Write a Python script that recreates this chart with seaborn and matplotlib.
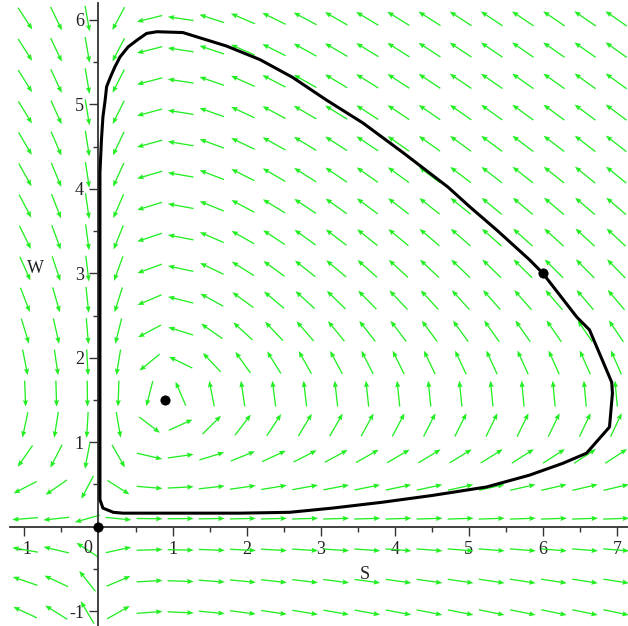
import numpy as np
import pandas as pd
import matplotlib
matplotlib.use("Agg")
import matplotlib.pyplot as plt
import seaborn as sns

# Predator-prey model behind the direction field (S = prey, W = predator)
prey_growth = 3.0
predation = 2.0
predator_death = 0.95
predator_gain = 1.05

# field grid (Maple style: 20 x 20 arrows, centred in cells)
s_range = (-1.2, 7.2)
w_range = (-1.2, 6.2)
n_arrows = 20

# closed orbit through (6, 3)
orbit_s = [6.00, 5.82, 5.38, 5.01, 4.72, 4.11, 3.57, 3.08, 2.62, 2.18, 1.73, 1.14,
           0.79, 0.65, 0.52, 0.40, 0.29, 0.22, 0.16, 0.11, 0.09, 0.06, 0.04,
           0.02, 0.02, 0.02, 0.02, 0.02, 0.06,
           0.20, 0.33, 1.91, 2.58, 3.16, 3.84, 4.51, 5.24, 5.82, 6.27, 6.59, 6.90,
           6.94, 6.93, 6.63, 6.46, 6.00]
orbit_w = [3.00, 3.16, 3.51, 3.79, 4.02, 4.43, 4.78, 5.05, 5.32, 5.53, 5.69, 5.85,
           5.86, 5.84, 5.76, 5.68, 5.56, 5.44, 5.32, 5.21, 5.05, 4.85, 4.58,
           4.19, 2.68, 1.50, 0.55, 0.32, 0.22,
           0.17, 0.16, 0.16, 0.17, 0.22, 0.29, 0.37, 0.47, 0.61, 0.75, 0.87, 1.18,
           1.58, 1.71, 2.33, 2.48, 3.00]

# marked points: origin, equilibrium, initial condition
marked_s = [0.0, 0.9, 6.0]
marked_w = [0.0, 1.5, 3.0]

x_ticks = [-1, 1, 2, 3, 4, 5, 6, 7]
y_ticks = [-1, 1, 2, 3, 4, 5, 6]

sns.set_theme(style="white")
plt.rcParams['font.family'] = ['Liberation Serif', 'DejaVu Serif']

W_PX, H_PX = 628, 626
fig = plt.figure(figsize=(W_PX / 100, H_PX / 100), dpi=100)
ax = fig.add_axes([9.6 / W_PX, 0.0, 618.4 / W_PX, 623 / H_PX])
ax.set_xlim(-1.2, 7.15)
ax.set_ylim(-1.176, 6.2)

# direction field, arrows normalised in screen space
ds = (s_range[1] - s_range[0]) / n_arrows
dw = (w_range[1] - w_range[0]) / n_arrows
gs = s_range[0] + ds * (np.arange(n_arrows) + 0.5)
gw = w_range[0] + dw * (np.arange(n_arrows) + 0.5)
S, Wg = np.meshgrid(gs, gw)
dS = S * (prey_growth - predation * Wg)
dW = Wg * (predator_gain * S - predator_death)

px_s = ax.get_position().width * W_PX / (7.15 + 1.2)
px_w = ax.get_position().height * H_PX / (6.2 + 1.176)
U = dS * px_s
V = dW * px_w
mag = np.hypot(U, V)
mag[mag == 0] = 1
arrow_len = 26
U = U / mag * arrow_len
V = V / mag * arrow_len

ax.quiver(S, Wg, U, V, angles='uv', scale_units='dots', scale=1, units='dots',
          pivot='middle', width=1.3, headwidth=4, headlength=5, headaxislength=4.5,
          color='#22ee22', zorder=1)

orbit = pd.DataFrame({'S': orbit_s, 'W': orbit_w})
sns.lineplot(data=orbit, x='S', y='W', sort=False, estimator=None,
             color='black', linewidth=2.2, ax=ax, zorder=3)

pts = pd.DataFrame({'S': marked_s, 'W': marked_w})
sns.scatterplot(data=pts, x='S', y='W', color='black', s=45, edgecolor='black',
                ax=ax, zorder=4, clip_on=False)

# Maple style axes through the origin
for side in ['top', 'right']:
    ax.spines[side].set_visible(False)
ax.spines['left'].set_position(('data', 0))
ax.spines['bottom'].set_position(('data', 0))
for side in ['left', 'bottom']:
    ax.spines[side].set_color('#333333')
    ax.spines[side].set_linewidth(1.3)
    ax.spines[side].set_zorder(2)

ax.set_xticks(x_ticks)
ax.set_yticks(y_ticks)
ax.set_xticks(np.arange(-1, 7.5, 0.5), minor=True)
ax.set_yticks(np.arange(-1, 6.5, 0.5), minor=True)
ax.set_xticklabels([str(t) for t in x_ticks])
ax.set_yticklabels([str(t) for t in y_ticks])
ax.tick_params(which='major', direction='out', length=6.5, width=1.0,
               color='#333333', labelsize=13, pad=4, labelcolor='#222222')
ax.tick_params(which='minor', direction='out', length=3.6, width=1.0, color='#333333')
ax.xaxis.set_ticks_position('bottom')
ax.yaxis.set_ticks_position('left')
ax.set_xlabel('')
ax.set_ylabel('')

ax.text(-0.14, -0.26, '0', fontsize=13, color='#222222', ha='center', va='center')
ax.text(3.6, -0.57, 'S', fontsize=13, color='#222222', ha='center', va='center')
ax.text(-0.855, 3.06, 'W', fontsize=13, color='#222222', ha='center', va='center')

fig.savefig('out.png', dpi=100)
plt.close(fig)
